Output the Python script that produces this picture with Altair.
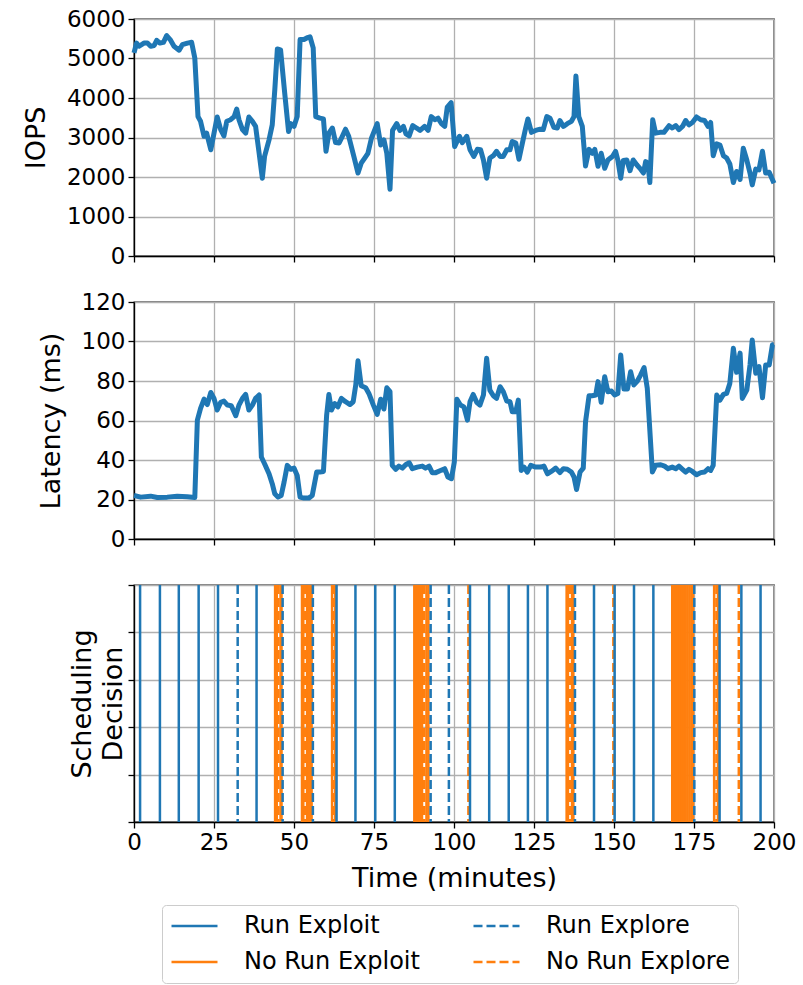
import altair as alt
import pandas as pd

# ---------------- data ----------------
iops_t = [0, 0.8, 1.6, 3.1, 4.2, 5.2, 6.3, 7.1, 8.1, 9.2, 10.2, 11.3, 12.5, 14.1, 15.1, 16.7, 18.0, 19.0,
          20.0, 20.8, 21.9, 22.7, 24.0, 25.0, 26.0, 27.1, 28.1, 29.0, 30.2, 31.3, 32.1, 32.8, 33.9, 34.9,
          35.9, 37.0, 38.0, 39.1, 40.1, 40.8, 42.2, 43.2, 44.0, 44.8, 45.8, 47.1, 48.3, 49.0, 50.0, 51.0,
          51.9, 53.1, 54.0, 55.0, 56.0, 56.8, 58.1, 59.2, 60.0, 60.9, 62.0, 63.0, 64.1, 65.1, 66.1, 67.1,
          68.7, 70.0, 71.0, 72.1, 73.1, 74.2, 76.0, 77.1, 78.1, 79.0, 80.0, 80.8, 82.1, 83.1, 84.2, 85.0,
          86.0, 87.1, 88.3, 89.4, 90.8, 91.9, 92.9, 94.0, 95.0, 96.0, 97.1, 97.9, 99.1, 100.2, 101.7, 102.6,
          104.0, 105.0, 106.2, 107.3, 108.3, 109.2, 110.2, 111.2, 112.3, 113.3, 114.4, 115.4, 116.5, 117.5,
          118.2, 119.3, 120.3, 121.4, 122.4, 123.1, 124.2, 125.5, 126.9, 127.9, 129.0, 130.0, 131.2, 132.3,
          133.1, 134.2, 135.4, 136.7, 137.5, 138.1, 139.0, 140.1, 141.1, 142.2, 143.2, 144.0, 145.0, 146.0,
          147.1, 148.1, 149.5, 150.5, 151.2, 152.1, 152.9, 154.0, 155.0, 156.0, 157.1, 158.1, 159.2, 159.9,
          160.6, 161.2, 162.1, 163.0, 164.4, 165.6, 167.2, 168.2, 169.3, 170.3, 171.4, 172.4, 173.4, 174.5,
          175.8, 177.1, 178.3, 179.4, 180.2, 181.0, 182.1, 183.1, 184.2, 185.2, 186.2, 187.3, 188.3, 189.4,
          190.4, 191.5, 192.5, 193.2, 194.3, 195.3, 196.4, 197.4, 198.5, 200.0]
iops_v = [5140, 5390, 5310, 5390, 5390, 5310, 5330, 5460, 5390, 5410, 5580, 5480, 5310, 5210, 5350, 5390, 5410, 5010,
          3530, 3410, 3030, 3110, 2690, 3110, 3520, 3200, 3040, 3410, 3450, 3530, 3720, 3450, 3200, 3110,
          3520, 3410, 3280, 2600, 1970, 2520, 2940, 3320, 4210, 5240, 5220, 4120, 3150, 3350, 3280, 3530,
          5480, 5480, 5520, 5550, 5270, 3530, 3490, 3470, 2650, 3110, 3240, 2870, 2860, 3030, 3210, 3030,
          2520, 2100, 2350, 2480, 2600, 2980, 3350, 2810, 2940, 2600, 1690, 3180, 3350, 3180, 3280, 3090,
          3040, 3300, 3240, 3180, 3280, 3180, 3530, 3450, 3490, 3360, 3280, 3770, 3880, 2770, 3030, 2870,
          3030, 2690, 2520, 2700, 2690, 2430, 1970, 2480, 2540, 2650, 2520, 2520, 2690, 2690,
          2900, 2860, 2450, 2870, 3240, 3470, 3130, 3180, 3210, 3200, 3530, 3490, 3260, 3240,
          3430, 3280, 3350, 3410, 3530, 4560, 3530, 3280, 2280, 2700, 2600, 2700, 2270, 2600,
          2220, 2430, 2520, 2650, 2430, 1970, 2420, 2430, 2160, 2430, 2310, 2220, 2100, 2390,
          2350, 1860, 3450, 3110, 3130, 3130, 3300, 3240, 3300, 3200, 3280, 3430, 3320, 3380,
          3520, 3450, 3430, 3280, 3380, 2540, 2840, 2810, 2540, 2480, 2330, 1860, 2140, 1940,
          2730, 2430, 2100, 1800, 2200, 2180, 2650, 2100, 2120, 1840]

lat_t = [0, 2.1, 5.2, 7.3, 10.4, 13.5, 16.6, 19.0, 19.8, 20.8, 21.9, 22.9, 24.0, 25.0, 26.0, 27.1, 28.1, 29.2,
         30.4, 31.8, 32.8, 33.9, 34.9, 35.9, 37.0, 38.0, 39.1, 39.8, 40.8, 42.2, 43.2, 44.0, 45.0, 46.0,
         46.9, 47.9, 49.0, 50.0, 51.0, 51.9, 53.1, 54.6, 55.7, 57.1, 58.1, 59.2, 60.2, 60.9, 61.7, 62.7,
         63.7, 64.8, 66.1, 67.5, 68.5, 69.3, 70.0, 71.0, 72.4, 73.4, 74.8, 76.0, 77.1, 78.1, 79.0, 80.0,
         80.7, 81.8, 82.8, 83.9, 84.9, 86.0, 87.0, 88.5, 90.1, 91.1, 92.2, 93.2, 94.3, 95.8, 97.1, 98.1,
         99.2, 100.1, 100.9, 102.0, 103.1, 104.2, 105.0, 106.0, 107.1, 108.1, 109.2, 110.2, 111.2, 112.3,
         113.3, 114.4, 115.4, 116.5, 117.5, 118.2, 119.3, 120.1, 121.0, 121.9, 122.9, 124.0, 125.5, 127.1,
         128.1, 129.2, 130.4, 131.8, 133.1, 134.2, 135.4, 136.7, 137.5, 138.3, 139.4, 140.4, 141.1, 142.2,
         143.2, 144.3, 145.0, 146.0, 147.1, 148.1, 149.2, 150.2, 151.2, 152.1, 153.1, 154.2, 155.2, 156.2,
         157.3, 158.3, 159.4, 160.4, 162.0, 163.0, 164.6, 165.8, 166.9, 168.2, 169.3, 170.3, 171.4, 172.4,
         173.4, 174.5, 175.8, 177.1, 178.3, 179.4, 180.2, 181.0, 182.1, 183.1, 184.2, 185.2, 186.2, 187.3,
         188.3, 189.4, 190.1, 191.5, 192.5, 193.2, 194.3, 195.3, 196.4, 197.4, 198.5, 199.5, 200.0]
lat_v = [22.0, 21.2, 21.7, 21.0, 21.2, 21.7, 21.4, 21.0, 60.2, 66.1, 70.8, 68.1, 74.2, 71.2, 65.3, 69.2, 69.8, 67.8,
         67.5, 62.4, 67.8, 71.2, 73.2, 65.3, 67.8, 71.2, 72.9, 41.5, 38.1, 33.0, 28.0, 22.9, 21.2, 22.0,
         28.8, 37.3, 35.3, 35.9, 32.2, 21.2, 20.7, 20.7, 22.0, 33.9, 33.9, 34.2, 62.7, 73.2, 65.3, 68.6,
         66.9, 71.2, 69.5, 68.1, 69.5, 78.0, 90.2, 77.6, 76.6, 73.7, 67.8, 63.1, 70.8, 65.8, 76.6, 74.6,
         37.3, 35.3, 36.9, 35.9, 37.6, 38.6, 35.6, 36.4, 36.9, 35.9, 36.9, 33.6, 33.6, 34.7, 35.6, 31.4,
         30.5, 39.0, 70.8, 67.8, 66.9, 60.2, 69.5, 73.2, 69.2, 67.8, 72.9, 91.5, 75.4, 72.5,
         71.2, 77.1, 74.6, 69.8, 69.5, 64.4, 64.4, 70.3, 34.7, 36.4, 33.9, 37.3, 36.4, 36.4,
         36.9, 33.0, 34.2, 35.9, 33.6, 35.6, 35.3, 33.9, 31.4, 25.1, 33.9, 35.9, 59.3, 72.5,
         72.5, 72.9, 79.7, 69.2, 82.2, 74.6, 74.9, 72.9, 73.7, 93.2, 75.9, 75.9, 84.7, 78.0,
         80.0, 83.0, 86.8, 76.3, 33.9, 37.3, 37.6, 36.9, 35.6, 36.4, 35.6, 36.9, 35.3, 33.9,
         35.3, 34.2, 32.5, 33.6, 33.9, 35.6, 34.7, 37.3, 72.9, 70.3, 73.2, 73.7, 78.8, 96.6,
         84.4, 94.1, 71.2, 75.4, 88.1, 100.8, 83.9, 87.3, 71.5, 88.1, 88.1, 98.3, 98.6]

# scheduling decisions (minutes)
run_exploit = [1.9, 8.1, 14.0, 20.2, 26.25, 38.3, 63.3, 69.2, 75.4, 81.5, 105.0, 111.0, 117.1, 123.1, 129.2,
               143.75, 150.2, 156.25, 162.3, 183.0, 189.8, 195.8]
run_explore = [32.4, 46.45, 55.9, 92.7, 98.4, 137.8, 175.1]
no_run_exploit = [44.1, 44.6, 45.8, 46.1, 52.5, 52.9, 54.1, 54.6, 55.1, 55.5, 61.9, 62.9,
                  87.6, 88.2, 88.8, 89.4, 90.0, 91.4, 92.0, 135.2, 135.6, 136.9, 137.3,
                  168.2, 168.8, 169.4, 170.0, 170.6, 171.2, 171.8, 172.4, 173.0, 173.6,
                  174.2, 174.7, 181.3, 182.5]
no_run_explore = [45.15, 53.5, 62.4, 90.7, 104.5, 136.25, 149.8, 182.0, 189.0]

# legend order (filled column by column)
kinds = ["Run Exploit", "No Run Exploit", "Run Explore", "No Run Explore"]
x_ticks = [0, 25, 50, 75, 100, 125, 150, 175, 200]
iops_ticks = [0, 1000, 2000, 3000, 4000, 5000, 6000]
lat_ticks = [0, 20, 40, 60, 80, 100, 120]
dec_ticks = [0, 0.2, 0.4, 0.6, 0.8, 1.0]

BLUE = "#1f77b4"
ORANGE = "#ff7f0e"
FONT = "DejaVu Sans"

iops_df = pd.DataFrame({"t": iops_t, "v": iops_v})
lat_df = pd.DataFrame({"t": lat_t, "v": lat_v})
dec_df = pd.DataFrame({
    "t": no_run_exploit + no_run_explore + run_exploit + run_explore,
    "kind": (["No Run Exploit"] * len(no_run_exploit) + ["No Run Explore"] * len(no_run_explore)
             + ["Run Exploit"] * len(run_exploit) + ["Run Explore"] * len(run_explore)),
})

W, H = 640, 237
xscale = alt.Scale(domain=[0, 200], nice=False, zero=False)


def x_plain():
    return alt.X("t:Q", scale=xscale, axis=alt.Axis(values=x_ticks, labels=False, title=None))


iops = alt.Chart(iops_df).mark_line(color=BLUE, strokeWidth=5, strokeJoin="round").encode(
    x=x_plain(),
    y=alt.Y("v:Q", scale=alt.Scale(domain=[0, 6000], nice=False),
            axis=alt.Axis(values=iops_ticks, format="d", title="IOPS", titlePadding=16)),
).properties(width=W, height=H)

lat = alt.Chart(lat_df).mark_line(color=BLUE, strokeWidth=5, strokeJoin="round").encode(
    x=x_plain(),
    y=alt.Y("v:Q", scale=alt.Scale(domain=[0, 120], nice=False),
            axis=alt.Axis(values=lat_ticks, format="d", title="Latency (ms)", titlePadding=16)),
).properties(width=W, height=H)

leg = alt.Legend(
    title=None, orient="none", legendX=28, legendY=886, columns=2,
    symbolType="stroke", symbolSize=2116, symbolStrokeWidth=2.5,
    labelFont=FONT, labelFontSize=24, labelColor="black", labelOffset=25, labelLimit=400,
    columnPadding=52, rowPadding=10, clipHeight=26, padding=8,
    strokeColor="#cccccc", fillColor="white", cornerRadius=4,
)

dec = alt.Chart(dec_df).mark_rule(strokeWidth=2.5).encode(
    x=alt.X("t:Q", scale=xscale,
            axis=alt.Axis(values=x_ticks, title="Time (minutes)", titlePadding=11, labelFlush=False)),
    y=alt.value(0), y2=alt.value(H),
    color=alt.Color("kind:N", scale=alt.Scale(domain=kinds, range=[BLUE, ORANGE, BLUE, ORANGE]), legend=leg),
    strokeDash=alt.StrokeDash("kind:N", scale=alt.Scale(domain=kinds, range=[[1, 0], [1, 0], [9, 4], [9, 4]]),
                              legend=leg),
)

dec_axis = alt.Chart(pd.DataFrame({"v": [0.0]})).mark_point(opacity=0).encode(
    y=alt.Y("v:Q", scale=alt.Scale(domain=[0, 1], nice=False),
            axis=alt.Axis(values=dec_ticks, labelExpr="' '", labelPadding=0,
                          title=["Scheduling", "Decision"], titleLineHeight=31, titlePadding=0)),
)

panel3 = alt.layer(dec_axis, dec).properties(width=W, height=H)

chart = alt.vconcat(iops, lat, panel3, spacing=21).properties(
    padding={"left": 21, "top": 7, "right": 5, "bottom": 5},
    background="white",
).configure_view(
    stroke="black", strokeWidth=1.3
).configure_axis(
    labelFont=FONT, labelFontSize=23, labelColor="black", labelPadding=3,
    titleFont=FONT, titleFontSize=27, titleFontWeight="normal", titleColor="black",
    domainColor="black", domainWidth=1.3, tickColor="black", tickWidth=1.3, tickSize=6,
    grid=True, gridColor="#b0b0b0", gridWidth=1.3,
)

chart.save("out.html", embed_options={"renderer": "svg", "actions": False})
